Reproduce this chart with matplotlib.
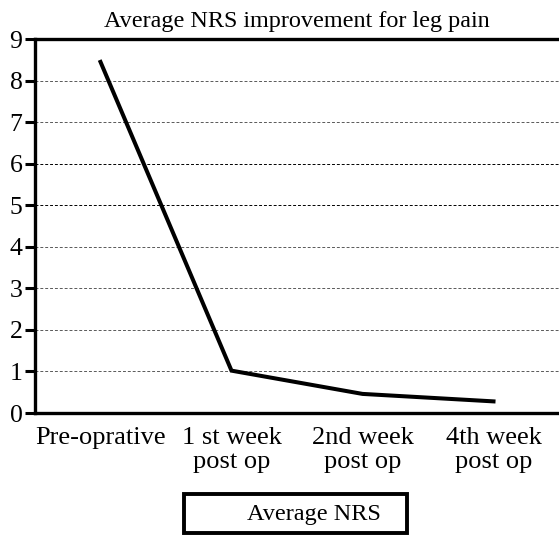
import matplotlib.pyplot as plt
import matplotlib
matplotlib.use("Agg")

plt.rcParams["font.family"] = ["Liberation Serif", "DejaVu Serif"]

# data
stages = ["Pre-oprative", "1 st week\npost op", "2nd week\npost op", "4th week\npost op"]
avg_nrs = [8.45, 1.02, 0.46, 0.28]
y_ticks = [0, 1, 2, 3, 4, 5, 6, 7, 8, 9]

fig = plt.figure(figsize=(5.59, 5.35), dpi=100)
ax = fig.add_axes([0.0626, 0.228, 0.9374, 0.699])

x = list(range(len(stages)))
line, = ax.plot(x, avg_nrs, color="black", lw=2.9, solid_joinstyle="miter",
                label="Average NRS")

ax.set_xlim(-0.5, 3.5)
ax.set_ylim(0, 9)
ax.set_yticks(y_ticks)
ax.set_xticks(x)
ax.set_xticklabels(stages, linespacing=1.1)
ax.tick_params(axis="y", direction="out", length=7, width=2.2, labelsize=18.5, pad=2)
ax.tick_params(axis="x", length=0, labelsize=19, pad=10)

for g in y_ticks[1:-1]:
    c = "black" if g in (5, 6) else "0.35"
    ax.axhline(g, color=c, lw=0.7, ls=(0, (3, 2)), zorder=0)

for s in ["left", "bottom", "top"]:
    ax.spines[s].set_linewidth(2.4)
ax.spines["right"].set_visible(False)

ax.set_title("Average NRS improvement for leg pain", fontsize=17.4, pad=8.5)

leg = fig.legend(handles=[line], loc="lower left",
                 bbox_to_anchor=(0.329, 0.003, 0.399, 0.08), mode="expand",
                 borderaxespad=0, fontsize=17.5, frameon=True, fancybox=False,
                 framealpha=1, borderpad=0.35, handlelength=1.45)
leg.get_frame().set_edgecolor("black")
leg.get_frame().set_linewidth(2.8)
leg.get_lines()[0].set_visible(False)

fig.savefig("out.png", dpi=100)
